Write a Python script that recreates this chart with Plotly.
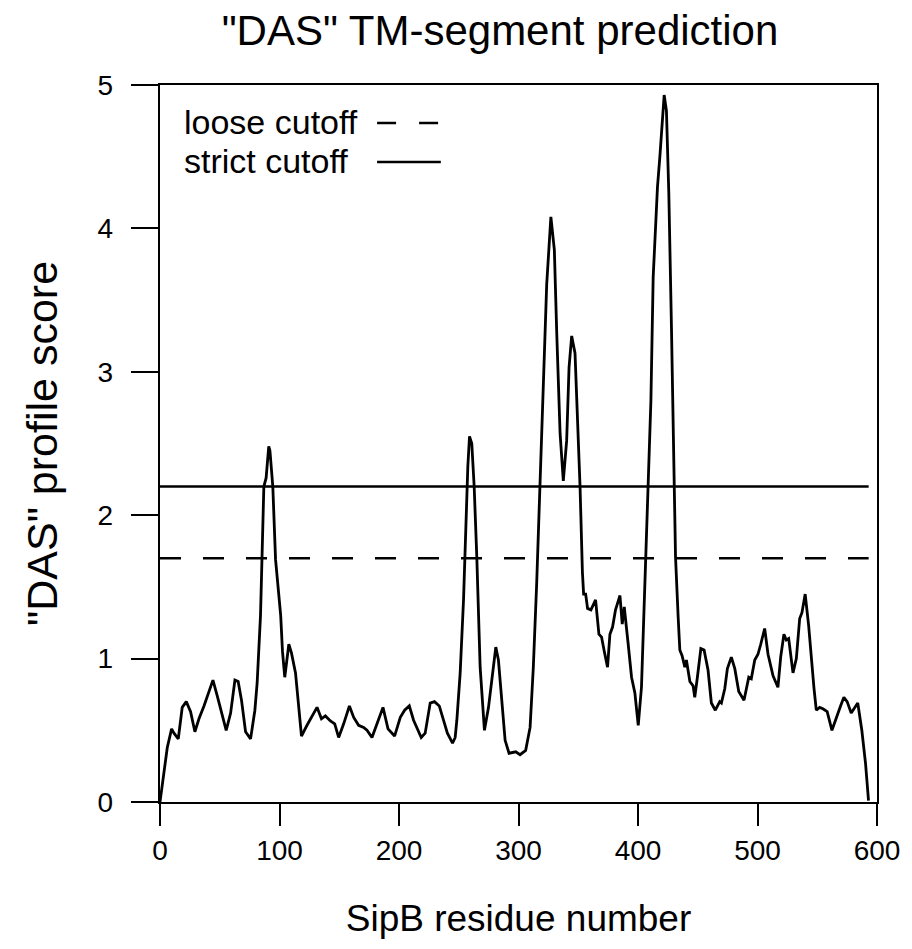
import plotly.graph_objects as go

# residue positions and DAS profile scores
residue = [0, 3.3, 6.1, 9.7, 11.7, 15.3, 18.6, 22, 25.6, 29.2, 32.6, 36.8, 39.5, 41.5, 44.3, 47.9,
           51.5, 55.4, 59.1, 62.7, 65.4, 68.2, 71.6, 75.8, 79.4, 81.3, 84.1, 86.9, 88.8, 91, 92,
           94.4, 96.7, 99.4, 101, 102.5, 104.4, 107.8, 110, 113.4, 118.4, 123, 127.2, 131.4, 135.1,
           138.4, 142.6, 146.2, 149.5, 153.7, 158.5, 162.1, 166.2, 170.4, 173.2, 177.4, 181.6,
           186.6, 190.8, 196.3, 201.1, 204.7, 208.6, 212.2, 218.6, 221.9, 226.1, 229.7, 233.7,
           237.3, 240.5, 244.8, 247, 248.4, 251.2, 254, 255.9, 257.6, 259, 260.9, 262.9, 265.1,
           267.9, 271.5, 274.9, 278.2, 281, 283.2, 286, 288.8, 292.1, 297.7, 301.3, 306, 309.7,
           312.4, 315.2, 318, 320.8, 323.6, 327.1, 330, 332, 334.8, 337.5, 340.3, 342.3, 344.5,
           347.3, 349.5, 351.5, 353.5, 354.5, 356.2, 357.8, 360.6, 364.5, 367.3, 369.5, 371.8,
           374.5, 376.5, 378.7, 381.2, 383.5, 384.9, 386.8, 388.5, 391.8, 394.6, 397.4, 400.2,
           402.9, 405.2, 407.1, 409.1, 410.8, 412.7, 416.3, 418.3, 421.9, 423.8, 425.8, 428,
           429.3, 430.5, 431.4, 433.6, 435, 436.9, 439.2, 440.5, 443.4, 446.1, 447.5, 449.7,
           452.6, 455.3, 458.6, 461.4, 464.7, 468.4, 469.8, 472.6, 474.8, 478.1, 481, 484.3,
           488.7, 492.7, 494.8, 497.7, 500.4, 502.7, 506, 508.8, 513, 517.1, 519.4, 522.1, 524.1,
           526.1, 529.7, 532.5, 535.3, 537.2, 539.9, 542.8, 545, 547.2, 549.2, 552, 554.7, 558.3,
           562.3, 565.9, 569.5, 572.3, 575, 578.4, 581.2, 583.9, 587.3, 590.4, 592.9]
score = [0, 0.22, 0.38, 0.51, 0.48, 0.44, 0.66, 0.70, 0.63, 0.49, 0.58, 0.67, 0.73, 0.78, 0.85, 0.74,
         0.63, 0.50, 0.62, 0.85, 0.84, 0.71, 0.49, 0.44, 0.64, 0.83, 1.30, 2.20, 2.26, 2.48, 2.45,
         2.20, 1.69, 1.46, 1.30, 1.05, 0.87, 1.10, 1.04, 0.90, 0.46, 0.535, 0.60, 0.66, 0.58,
         0.60, 0.565, 0.545, 0.45, 0.545, 0.67, 0.59, 0.535, 0.52, 0.50, 0.45, 0.545,
         0.66, 0.51, 0.46, 0.59, 0.64, 0.67, 0.57, 0.45, 0.48, 0.69, 0.70, 0.67,
         0.57, 0.48, 0.41, 0.45, 0.57, 0.90, 1.41, 1.92, 2.34, 2.55, 2.50, 2.20, 1.71,
         0.94, 0.50, 0.66, 0.90, 1.08, 0.99, 0.71, 0.43, 0.34, 0.35, 0.33, 0.36, 0.52,
         0.94, 1.52, 2.20, 3.03, 3.61, 4.08, 3.85, 3.27, 2.57, 2.24, 2.52, 3.03, 3.25,
         3.13, 2.68, 2.20, 1.60, 1.45, 1.45, 1.35, 1.34, 1.41, 1.17, 1.15, 1.05,
         0.94, 1.17, 1.22, 1.34, 1.41, 1.44, 1.24, 1.36, 1.10, 0.87, 0.76, 0.535,
         0.80, 1.41, 1.87, 2.34, 2.80, 3.66, 4.29, 4.50, 4.93, 4.82, 4.24, 3.31,
         2.66, 2.20, 1.71, 1.29, 1.06, 1.02, 0.94, 0.99, 0.84, 0.81, 0.73, 0.87,
         1.07, 1.06, 0.92, 0.69, 0.64, 0.70, 0.69, 0.79, 0.93, 1.01, 0.93, 0.77,
         0.71, 0.87, 0.86, 0.99, 1.03, 1.10, 1.21, 1.03, 0.88, 0.80, 1.01, 1.17, 1.13,
         1.14, 0.90, 1.00, 1.28, 1.32, 1.45, 1.23, 0.99, 0.80, 0.64, 0.66, 0.65, 0.63,
         0.50, 0.59, 0.67, 0.73, 0.70, 0.62, 0.66, 0.69, 0.50, 0.27, 0.01]

seq_start = 0
seq_end = 593
loose_cutoff = 1.7
strict_cutoff = 2.2
x_ticks = [0, 100, 200, 300, 400, 500, 600]
y_ticks = [0, 1, 2, 3, 4, 5]
legend_labels = ["loose cutoff", "strict cutoff"]

FONT = "Liberation Sans, Arial, Helvetica, sans-serif"
DASH = "21px,22px"

fig = go.Figure()
fig.add_trace(go.Scatter(x=residue, y=score, mode="lines",
                         line=dict(color="black", width=2.8), showlegend=False,
                         hoverinfo="skip"))
fig.add_trace(go.Scatter(x=[seq_start, seq_end], y=[loose_cutoff, loose_cutoff], mode="lines",
                         line=dict(color="black", width=2.4, dash=DASH), showlegend=False))
fig.add_trace(go.Scatter(x=[seq_start, seq_end], y=[strict_cutoff, strict_cutoff], mode="lines",
                         line=dict(color="black", width=2.4), showlegend=False))

# legend drawn in R style (text then line sample)
L, R, T, B = 160, 880, 85, 802
W, H = 912, 949
def px(x):
    return (x - L) / (R - L)
def py(y):
    return (B - y) / (B - T)

for i, (lab, dash) in enumerate(zip(legend_labels, ["19px,23px", "solid"])):
    yc = 122 + i * 39
    fig.add_annotation(x=px(182), y=py(yc), xref="x domain", yref="y domain",
                       text=lab, showarrow=False, xanchor="left", yanchor="middle",
                       font=dict(family=FONT, size=34, color="black"))
    fig.add_shape(type="line", xref="x domain", yref="y domain",
                  x0=px(378), x1=px(442), y0=py(yc + 1), y1=py(yc + 1),
                  line=dict(color="black", width=2.4, dash=dash))

axis_common = dict(showgrid=False, zeroline=False, showline=True, linecolor="black",
                   linewidth=2.4, mirror=True, ticks="outside", tickwidth=2.4,
                   tickcolor="black", tickfont=dict(family=FONT, size=28, color="black"))

fig.update_layout(
    width=W, height=H,
    margin=dict(l=L, r=W - R, t=T, b=H - B),
    paper_bgcolor="white", plot_bgcolor="white",
    title=dict(text='"DAS" TM-segment prediction', x=500 / W, xanchor="center",
               y=1 - 30 / H, yanchor="middle", xref="container", yref="container",
               font=dict(family=FONT, size=42, color="black")),
    xaxis=dict(range=[0, 600], tickvals=x_ticks, ticklen=22, **axis_common,
               title=dict(text="SipB residue number", standoff=40,
                          font=dict(family=FONT, size=37, color="black"))),
    yaxis=dict(range=[0, 5], tickvals=y_ticks, ticklen=27, ticklabelstandoff=12, **axis_common,
               title=dict(text='"DAS" profile score', standoff=27,
                          font=dict(family=FONT, size=43, color="black"))),
)
fig.write_html("out.html")
